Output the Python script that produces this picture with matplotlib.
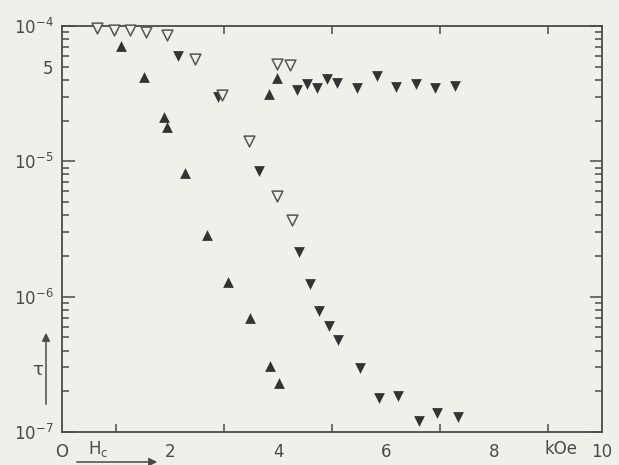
import numpy as np
import matplotlib.pyplot as plt

plt.rcParams["mathtext.default"] = "regular"

# open down-triangles
open_down_x = [0.65, 0.96, 1.26, 1.56, 1.95, 2.46, 2.97, 3.47, 3.99, 4.22, 3.99, 4.25]
open_down_y = [9.6e-5, 9.3e-5, 9.3e-5, 9.1e-5, 8.6e-5, 5.7e-5, 3.1e-5, 1.41e-5,
               5.2e-5, 5.15e-5, 5.55e-6, 3.68e-6]

# filled up-triangles
up_x = [1.09, 1.52, 1.89, 1.95, 2.28, 2.69, 3.08, 3.48, 3.85, 4.01, 3.83, 3.98]
up_y = [7.15e-5, 4.22e-5, 2.11e-5, 1.78e-5, 8.15e-6, 2.85e-6, 1.28e-6, 6.9e-7,
        3.07e-7, 2.31e-7, 3.13e-5, 4.1e-5]

# filled down-triangles
down_x = [2.15, 2.88, 3.64, 4.36, 4.54, 4.72, 4.90, 5.09, 5.46, 5.83, 6.19, 6.56,
          6.91, 7.28, 4.38, 4.59, 4.76, 4.94, 5.12, 5.51, 5.87, 6.23, 6.61, 6.95, 7.34]
down_y = [6.03e-5, 2.97e-5, 8.47e-6, 3.37e-5, 3.71e-5, 3.50e-5, 4.03e-5, 3.81e-5,
          3.48e-5, 4.26e-5, 3.52e-5, 3.71e-5, 3.50e-5, 3.61e-5, 2.15e-6, 1.24e-6,
          7.83e-7, 6.07e-7, 4.78e-7, 2.99e-7, 1.77e-7, 1.84e-7, 1.21e-7, 1.37e-7, 1.29e-7]

x_ticks = [0, 2, 4, 6, 8, 10]
x_labels = ["O", "2", "4", "6", "8", "10"]
y_major = [1e-7, 1e-6, 1e-5, 1e-4]
y_labels = [r"$10^{-7}$", r"$10^{-6}$", r"$10^{-5}$", r"$10^{-4}$"]

bg = "#f1efe9"
ink = "#4a4a4a"
mark = "#333333"

fig = plt.figure(figsize=(6.19, 4.65), dpi=100, facecolor=bg)
ax = fig.add_axes([62 / 619, 1 - 432 / 465, 540 / 619, 406 / 465], facecolor=bg)

ax.scatter(up_x, up_y, marker="^", s=60, color=mark, linewidths=0, zorder=3,
           clip_on=False)
ax.scatter(down_x, down_y, marker="v", s=60, color=mark, linewidths=0, zorder=3,
           clip_on=False)
ax.scatter(open_down_x, open_down_y, marker="v", s=60, facecolors=bg,
           edgecolors="#555555", linewidths=1.1, zorder=4, clip_on=False)

ax.set_yscale("log")
ax.set_xlim(0, 10)
ax.set_ylim(1e-7, 1e-4)

for s in ax.spines.values():
    s.set_color(ink)
    s.set_linewidth(1.3)

ax.set_xticks(x_ticks)
ax.set_xticklabels(x_labels)
ax.set_xticks(np.arange(1, 10), minor=True)
ax.set_yticks(y_major)
ax.set_yticklabels(y_labels)
minor_y = [m * 10.0 ** e for e in (-7, -6, -5) for m in range(2, 10)]
ax.set_yticks(minor_y, minor=True)
ax.set_yticklabels(["5" if abs(v - 5e-5) < 1e-9 else "" for v in minor_y], minor=True)

ax.tick_params(axis="both", which="both", direction="in", colors=ink,
               labelcolor=ink, labelsize=12, width=1.1)
ax.tick_params(axis="x", which="major", length=0, pad=8, top=False)
ax.tick_params(axis="x", which="minor", length=6, top=True, bottom=True)
ax.tick_params(axis="y", which="major", length=9, pad=6, right=True)
ax.tick_params(axis="y", which="minor", length=5, pad=6, right=True)

fig.text(561 / 619, 1 - 449 / 465, "kOe", fontsize=12, color=ink,
         ha="center", va="center")

# H_c with arrow
fig.text(88 / 619, 1 - 449 / 465, r"H$_c$", fontsize=12, color=ink, va="center")
ax.annotate("", xy=(160, 3), xytext=(74, 3), xycoords="figure pixels",
            textcoords="figure pixels",
            arrowprops=dict(arrowstyle="-|>", color=ink, lw=1.1, mutation_scale=12))

# tau with arrow
fig.text(38 / 619, 1 - 370 / 465, r"$\tau$", fontsize=13, color=ink,
         ha="center", va="center")
ax.annotate("", xy=(46, 465 - 330), xytext=(46, 465 - 407), xycoords="figure pixels",
            textcoords="figure pixels",
            arrowprops=dict(arrowstyle="-|>", color=ink, lw=1.1, mutation_scale=12))

fig.savefig("out.png", dpi=100, facecolor=bg)
